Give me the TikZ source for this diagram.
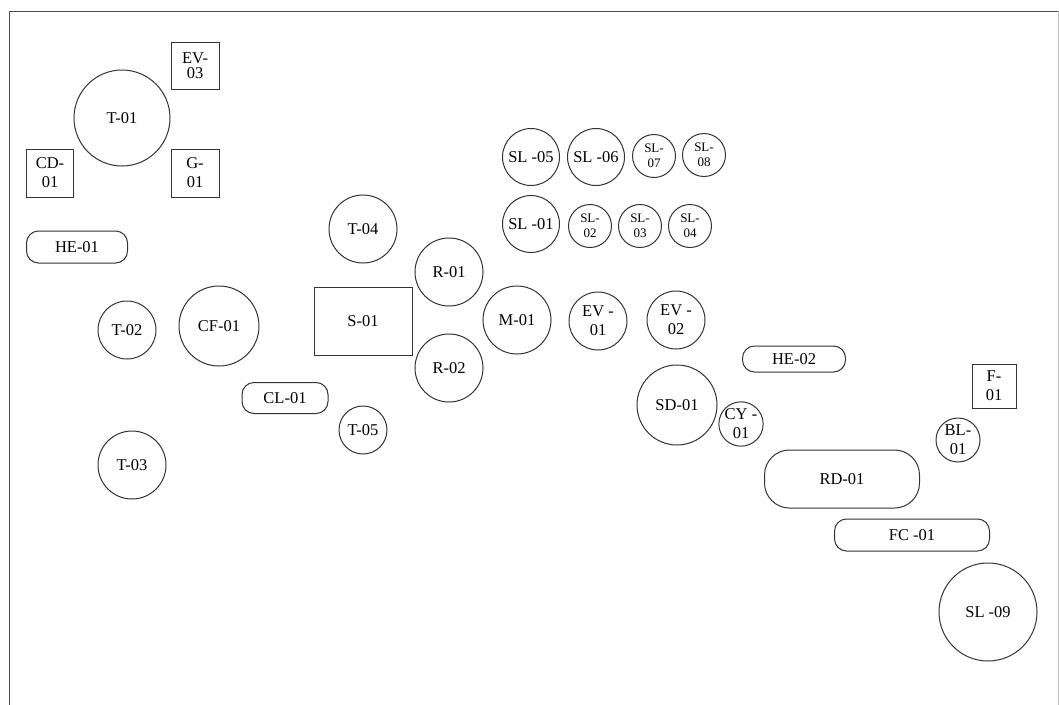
\documentclass[tikz,border=0pt]{standalone}
\usepackage{fontspec}
\setmainfont{Liberation Serif}
\usetikzlibrary{positioning}

\begin{document}
\begin{tikzpicture}[x=1pt, y=-1pt,
  every node/.style={draw=black!80, line width=1pt, inner sep=0pt, align=center, font=\fontsize{16.5}{19}\selectfont},
  tank/.style={circle, minimum size=#1},
  silo/.style={circle, minimum size=#1, font=\fontsize{13}{15}\selectfont},
  unit/.style={rectangle, minimum width=#1},
  pill/.style={rectangle, rounded corners=#1}]
  \useasboundingbox (0,0) rectangle (1059,704);
  \draw[black!70, line width=.9pt] (9,720) -- (9,11) -- (1058,11);
  \draw[black!25, line width=.6pt] (1058,11) -- (1058,720);

  % storage and feed
  \node[tank=96pt] (t01) at (122,118) {T-01};
  \node[unit=48pt, minimum height=47pt, font=\fontsize{16.5}{15}\selectfont] (ev03) at (195,66) {EV-\\03};
  \node[unit=47pt, minimum height=48pt] (cd01) at (50,173) {CD-\\01};
  \node[unit=48pt, minimum height=48pt] (g01) at (195,173) {G-\\01};
  \node[pill=12pt, minimum width=101pt, minimum height=32pt] (he01) at (77,247) {HE-01};
  \node[tank=58pt] (t02) at (127,330) {T-02};
  \node[tank=68pt] (t03) at (132,465) {T-03};
  \node[tank=80pt] (cf01) at (219,326) {CF-01};
  \node[pill=12pt, minimum width=86pt, minimum height=31pt] (cl01) at (285,398) {CL-01};

  % reaction
  \node[tank=68pt] (t04) at (363,229) {T-04};
  \node[unit=98pt, minimum height=68pt] (s01) at (363,321) {S-01};
  \node[tank=48pt] (t05) at (363,430) {T-05};
  \node[tank=68pt] (r01) at (449,272) {R-01};
  \node[tank=68pt] (r02) at (449,368) {R-02};
  \node[tank=68pt] (m01) at (517,320) {M-01};
  \node[tank=58pt] (ev01) at (598,321) {EV -\\01};
  \node[tank=58pt] (ev02) at (676,320) {EV -\\02};

  % silos
  \node[tank=57pt] (sl05) at (531,157) {SL -05};
  \node[tank=57pt] (sl06) at (596,157) {SL -06};
  \node[silo=43pt] (sl07) at (654,156) {SL-\\07};
  \node[silo=43pt] (sl08) at (704,155) {SL-\\08};
  \node[tank=57pt] (sl01) at (531,224) {SL -01};
  \node[silo=43pt] (sl02) at (590,226) {SL-\\02};
  \node[silo=43pt] (sl03) at (640,226) {SL-\\03};
  \node[silo=43pt] (sl04) at (690,226) {SL-\\04};

  % drying and product
  \node[pill=12pt, minimum width=103pt, minimum height=26pt] (he02) at (794,359) {HE-02};
  \node[tank=80pt] (sd01) at (677,405) {SD-01};
  \node[tank=43pt] (cy01) at (741,424) {CY -\\01};
  \node[unit=44pt, minimum height=44pt] (f01) at (994,386) {F-\\01};
  \node[tank=44pt] (bl01) at (958,440) {BL-\\01};
  \node[pill=25pt, minimum width=155pt, minimum height=58pt] (rd01) at (842,479) {RD-01};
  \node[pill=12pt, minimum width=155pt, minimum height=32pt] (fc01) at (912,535) {FC -01};
  \node[tank=98pt] (sl09) at (988,612) {SL -09};
\end{tikzpicture}
\end{document}
